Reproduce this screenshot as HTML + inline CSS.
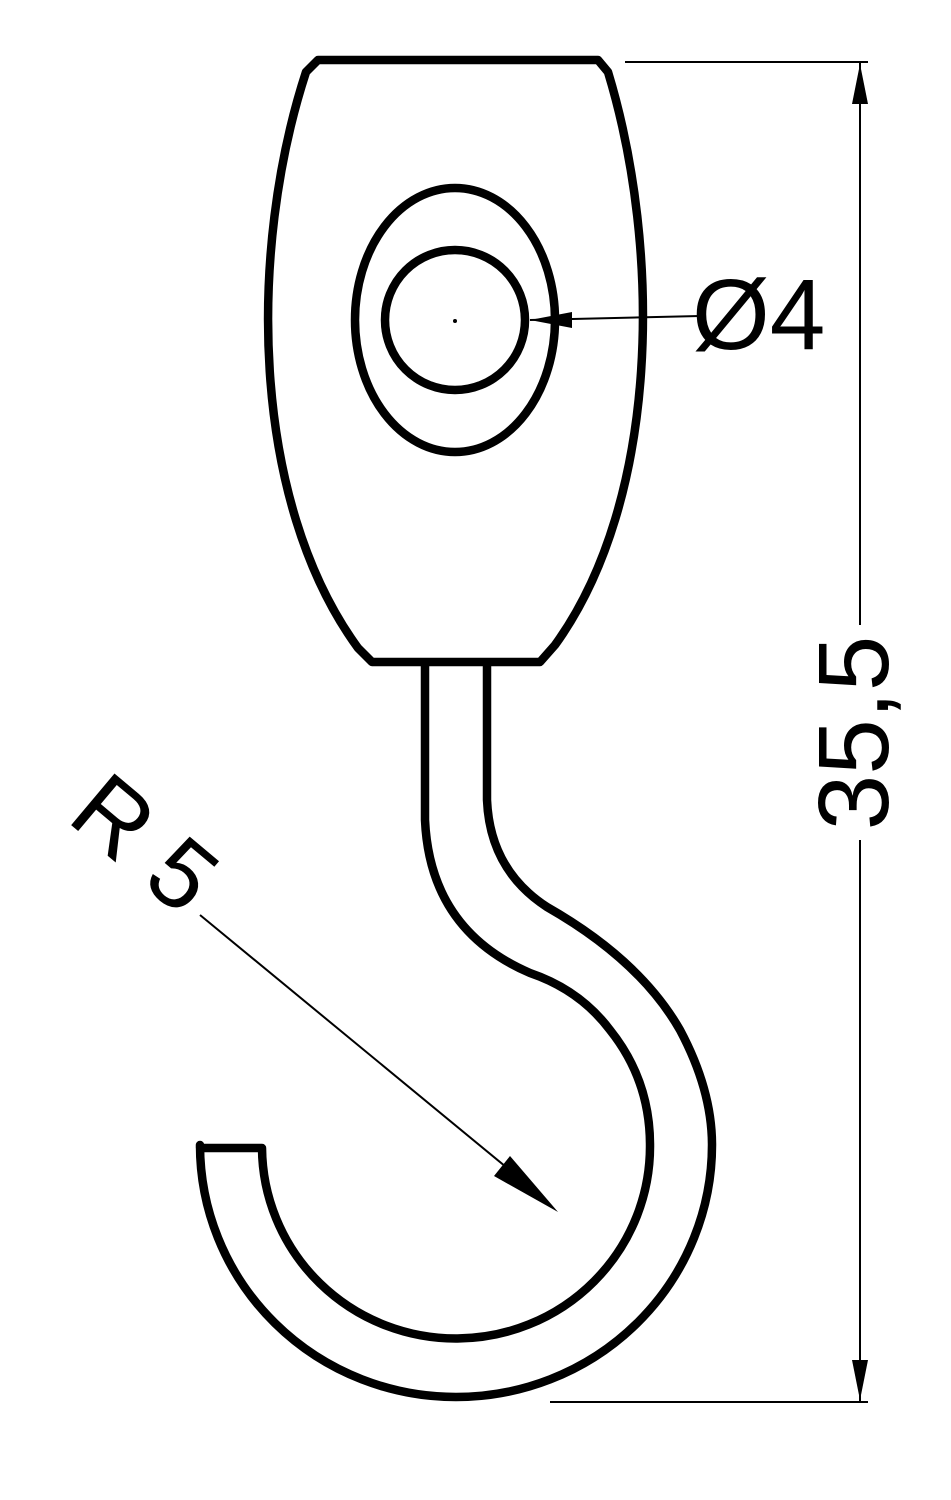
<!DOCTYPE html>
<html><head><meta charset="utf-8"><style>
html,body{margin:0;padding:0;background:#fff;}
svg{display:block;}
text{font-family:"Liberation Sans","DejaVu Sans",sans-serif;fill:#000;}
</style></head><body>
<svg width="951" height="1500" viewBox="0 0 951 1500" xmlns="http://www.w3.org/2000/svg">
<g fill="none" stroke="#000" stroke-width="8.5" stroke-linejoin="round">
<!-- body -->
<path d="M318,60 L598,60 L608,72 C662,250 660,500 555,645 L540,662 L372,662 L358,648 C250,500 248,250 306,72 Z"/>
<ellipse cx="455" cy="320" rx="100" ry="132"/>
<circle cx="455" cy="320" r="70"/>
<!-- hook -->
<path d="M487,666 L487,800 Q490,870 547,907 Q640,960 680,1030 Q712,1090 712,1145 A256,252 0 0 1 200,1145 L200,1148 L262,1148 A194,192 0 0 0 650,1145 Q650,1080 610,1030 Q580,990 530,973 Q430,930 425,820 L425,666"/>
</g>
<circle cx="455" cy="321" r="2" fill="#000"/>
<!-- Ø4 dimension -->
<line x1="530" y1="320" x2="700" y2="316" stroke="#000" stroke-width="2"/>
<polygon points="530,320 572,312 572,328" fill="#000"/>
<text x="692" y="349" font-size="100">Ø4</text>
<!-- vertical dimension -->
<g stroke="#000" stroke-width="2">
<line x1="625" y1="62" x2="868" y2="62"/>
<line x1="550" y1="1402" x2="868" y2="1402"/>
<line x1="860" y1="62" x2="860" y2="1402"/>
</g>
<polygon points="860,64 852,104 868,104" fill="#000"/>
<polygon points="860,1400 852,1360 868,1360" fill="#000"/>
<rect x="830" y="625" width="60" height="215" fill="#fff"/>
<text transform="translate(888,733) rotate(-90)" text-anchor="middle" font-size="100">35,5</text>
<!-- R5 -->
<line x1="200" y1="915" x2="540" y2="1195" stroke="#000" stroke-width="2"/>
<polygon points="558,1212 494,1176 510,1156" fill="#000"/>
<text transform="translate(65,820) rotate(40)" font-size="98">R 5</text>
</svg>
</body></html>
